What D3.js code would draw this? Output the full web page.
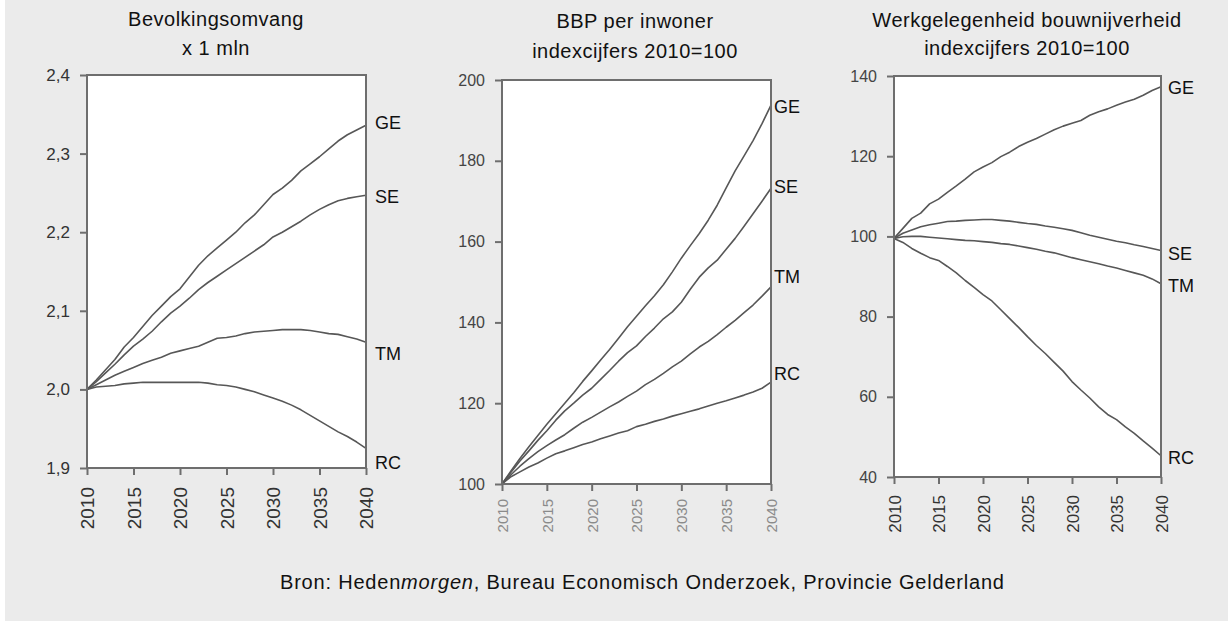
<!DOCTYPE html>
<html>
<head>
<meta charset="utf-8">
<script src="https://cdn.jsdelivr.net/npm/d3@7"></script>
<style>
  body { margin: 0; background: #fff; }
  svg { display: block; font-family: "Liberation Sans", Arial, sans-serif; }
</style>
</head>
<body>
<svg id="chart" width="1228" height="621"></svg>
<script>
// scenario data

const years = [2010, 2011, 2012, 2013, 2014, 2015, 2016, 2017, 2018, 2019, 2020,
               2021, 2022, 2023, 2024, 2025, 2026, 2027, 2028, 2029, 2030,
               2031, 2032, 2033, 2034, 2035, 2036, 2037, 2038, 2039, 2040];
const scenarios = ["GE", "SE", "TM", "RC"];
const yearTicks = [2010, 2015, 2020, 2025, 2030, 2035, 2040];

// Bevolkingsomvang x 1 mln
const popTicks = [1.9, 2.0, 2.1, 2.2, 2.3, 2.4];
const popGE = [2.000, 2.012, 2.025, 2.038, 2.054, 2.066, 2.080, 2.094, 2.106, 2.118, 2.128,
               2.143, 2.158, 2.170, 2.180, 2.190, 2.200, 2.212, 2.222, 2.235, 2.248,
               2.256, 2.266, 2.278, 2.287, 2.296, 2.306, 2.316, 2.324, 2.330, 2.336];
const popSE = [2.000, 2.010, 2.021, 2.032, 2.044, 2.055, 2.064, 2.074, 2.086, 2.097, 2.106,
               2.116, 2.127, 2.136, 2.144, 2.152, 2.160, 2.168, 2.176, 2.184, 2.194,
               2.200, 2.207, 2.214, 2.222, 2.229, 2.235, 2.240, 2.243, 2.245, 2.247];
const popTM = [2.000, 2.006, 2.012, 2.018, 2.023, 2.028, 2.033, 2.037, 2.041, 2.046, 2.049,
               2.052, 2.055, 2.060, 2.065, 2.066, 2.068, 2.071, 2.073, 2.074, 2.075,
               2.076, 2.076, 2.076, 2.075, 2.073, 2.071, 2.070, 2.067, 2.064, 2.060];
const popRC = [2.000, 2.003, 2.004, 2.005, 2.007, 2.008, 2.009, 2.009, 2.009, 2.009, 2.009,
               2.009, 2.009, 2.008, 2.006, 2.005, 2.003, 2.000, 1.997, 1.993, 1.989,
               1.985, 1.980, 1.974, 1.967, 1.960, 1.953, 1.946, 1.940, 1.933, 1.925];

// BBP per inwoner, 2010=100
const bbpTicks = [100, 120, 140, 160, 180, 200];
const bbpGE = [100, 103.2, 106.3, 109.2, 112.0, 114.8, 117.4, 120.0, 122.6, 125.4, 128.0,
               130.7, 133.3, 136.1, 138.9, 141.5, 144.1, 146.6, 149.3, 152.5, 155.9,
               159.0, 162.0, 165.3, 169.0, 173.3, 177.5, 181.2, 185.0, 189.2, 193.8];
const bbpSE = [100, 102.9, 105.7, 108.2, 110.8, 113.2, 115.8, 118.1, 120.0, 122.0, 123.7,
               125.9, 128.1, 130.4, 132.5, 134.2, 136.5, 138.6, 140.9, 142.6, 145.0,
               148.2, 151.2, 153.5, 155.4, 158.1, 160.8, 163.8, 166.9, 170.0, 173.2];
const bbpTM = [100, 102.3, 104.4, 106.3, 108.0, 109.5, 110.9, 112.2, 113.8, 115.3, 116.5,
               117.8, 119.1, 120.3, 121.7, 123.0, 124.6, 125.9, 127.4, 129.0, 130.4,
               132.2, 133.9, 135.3, 137.0, 138.8, 140.5, 142.4, 144.3, 146.5, 148.8];
const bbpRC = [100, 101.8, 103.0, 104.2, 105.2, 106.4, 107.5, 108.2, 109.0, 109.8, 110.4,
               111.2, 111.9, 112.6, 113.2, 114.2, 114.8, 115.5, 116.1, 116.8, 117.4,
               118.0, 118.6, 119.3, 120.0, 120.6, 121.3, 122.0, 122.8, 123.7, 125.2];

// Werkgelegenheid bouwnijverheid, 2010=100
const werkTicks = [40, 60, 80, 100, 120, 140];
const werkGE = [99.5, 102.0, 104.5, 105.8, 108.1, 109.3, 111.0, 112.6, 114.3, 116.1, 117.3,
                118.4, 119.9, 121.0, 122.4, 123.5, 124.4, 125.5, 126.6, 127.5, 128.2,
                128.9, 130.2, 131.1, 131.8, 132.7, 133.5, 134.2, 135.2, 136.4, 137.3];
const werkSE = [99.5, 100.8, 101.6, 102.4, 102.9, 103.3, 103.7, 103.8, 104.0, 104.1, 104.2,
                104.2, 104.0, 103.8, 103.5, 103.2, 103.0, 102.6, 102.3, 101.9, 101.5,
                100.9, 100.3, 99.8, 99.3, 98.8, 98.4, 97.9, 97.5, 97.0, 96.5];
const werkTM = [99.5, 99.9, 100.0, 100.0, 99.8, 99.6, 99.4, 99.2, 99.0, 98.9, 98.7,
                98.5, 98.2, 98.0, 97.6, 97.2, 96.8, 96.3, 95.9, 95.3, 94.7,
                94.2, 93.7, 93.2, 92.6, 92.1, 91.5, 90.9, 90.3, 89.4, 88.2];
const werkRC = [99.5, 98.5, 97.0, 95.8, 94.7, 94.0, 92.5, 90.9, 89.0, 87.3, 85.5,
                83.9, 81.7, 79.5, 77.3, 75.0, 72.8, 70.8, 68.6, 66.4, 63.8,
                61.7, 59.7, 57.5, 55.6, 54.3, 52.5, 50.9, 49.0, 47.2, 45.3];

const lineColour = "#575757";
const frameColour = "#6e6e6e";

const svg = d3.select("#chart");

svg.append("rect")
        .attr("x", 5).attr("y", 0)
        .attr("width", 1223).attr("height", 621)
        .attr("fill", "#ebebeb");

const panels = [
        {
                title: ["Bevolkingsomvang", "x 1 mln"], titleX: 216, titleY: [26, 55],
                left: 87, right: 366, top: 75, bottom: 468,
                domain: [1.9, 2.4], ticks: popTicks, fmt: d => d.toFixed(1).replace(".", ","),
                series: [popGE, popSE, popTM, popRC], labelShift: [-3, 1, 11, 14], labelDx: 9,
                yFont: 17, yColour: "#333", xFont: 19, xColour: "#333", xGap: 19
        },
        {
                title: ["BBP per inwoner", "indexcijfers 2010=100"], titleX: 635, titleY: [28, 58],
                left: 502, right: 771, top: 80, bottom: 484,
                domain: [100, 200], ticks: bbpTicks, fmt: d => d,
                series: [bbpGE, bbpSE, bbpTM, bbpRC], labelShift: [1, -2, -10, -9], labelDx: 3,
                yFont: 16, yColour: "#444", xFont: 15, xColour: "#8a8a8a", xGap: 15
        },
        {
                title: ["Werkgelegenheid bouwnijverheid", "indexcijfers 2010=100"], titleX: 1027, titleY: [27, 55],
                left: 894, right: 1161, top: 76, bottom: 477,
                domain: [40, 140], ticks: werkTicks, fmt: d => d,
                series: [werkGE, werkSE, werkTM, werkRC], labelShift: [1, 3, 2, 2], labelDx: 7,
                yFont: 16, yColour: "#444", xFont: 17, xColour: "#333", xGap: 18
        }
];

panels.forEach(drawPanel);

function drawPanel(p) {
        const x = d3.scaleLinear().domain([2010, 2040]).range([p.left, p.right]);
        const y = d3.scaleLinear().domain(p.domain).range([p.bottom, p.top]);
        const g = svg.append("g");

        p.title.forEach((t, i) => {
                g.append("text")
                        .attr("x", p.titleX)
                        .attr("y", p.titleY[i])
                        .attr("text-anchor", "middle")
                        .attr("font-size", "20px")
                        .attr("letter-spacing", "0.5px")
                        .attr("fill", "#111")
                        .text(t);
        });

        g.append("rect")
                .attr("x", p.left).attr("y", p.top)
                .attr("width", p.right - p.left).attr("height", p.bottom - p.top)
                .attr("fill", "#fff");

        const yAxis = g.append("g")
                .attr("transform", "translate(" + p.left + ",0)")
                .call(d3.axisLeft(y).tickValues(p.ticks).tickFormat(p.fmt).tickSize(7).tickPadding(10).tickSizeOuter(0));
        yAxis.selectAll("text")
                .attr("font-size", p.yFont + "px")
                .attr("fill", p.yColour);

        const xAxis = g.append("g")
                .attr("transform", "translate(0," + p.bottom + ")")
                .call(d3.axisBottom(x).tickValues(yearTicks).tickFormat(d3.format("d")).tickSize(7).tickSizeOuter(0));
        xAxis.selectAll("text")
                .attr("transform", "rotate(-90)")
                .attr("x", -p.xGap)
                .attr("y", 0)
                .attr("dy", "0.36em")
                .attr("text-anchor", "end")
                .attr("font-size", p.xFont + "px")
                .attr("fill", p.xColour);

        g.selectAll(".domain").remove();
        g.selectAll(".tick line")
                .attr("stroke", frameColour)
                .attr("stroke-width", 2);
        g.selectAll(".tick text").attr("font-family", "Liberation Sans, Arial, sans-serif");

        const line = d3.line()
                .x((d, i) => x(years[i]))
                .y(d => y(d));

        p.series.forEach((s, k) => {
                g.append("path")
                        .attr("d", line(s))
                        .attr("fill", "none")
                        .attr("stroke", lineColour)
                        .attr("stroke-width", 1.6)
                        .attr("stroke-linejoin", "round");

                g.append("text")
                        .attr("x", p.right + p.labelDx)
                        .attr("y", y(s[s.length - 1]) + p.labelShift[k])
                        .attr("dy", "0.36em")
                        .attr("font-size", "18px")
                        .attr("fill", "#111")
                        .text(scenarios[k]);
        });

        // frame on top of the lines
        g.append("rect")
                .attr("x", p.left).attr("y", p.top)
                .attr("width", p.right - p.left).attr("height", p.bottom - p.top)
                .attr("fill", "none")
                .attr("stroke", frameColour)
                .attr("stroke-width", 2);
}

// source line, with "morgen" in italics
const bron = svg.append("text")
        .attr("x", 280)
        .attr("y", 589)
        .attr("font-size", "20px")
        .attr("letter-spacing", "0.8px")
        .attr("fill", "#111");
bron.append("tspan").text("Bron: Heden");
bron.append("tspan").attr("font-style", "italic").text("morgen");
bron.append("tspan").text(", Bureau Economisch Onderzoek, Provincie Gelderland");
</script>
</body>
</html>
